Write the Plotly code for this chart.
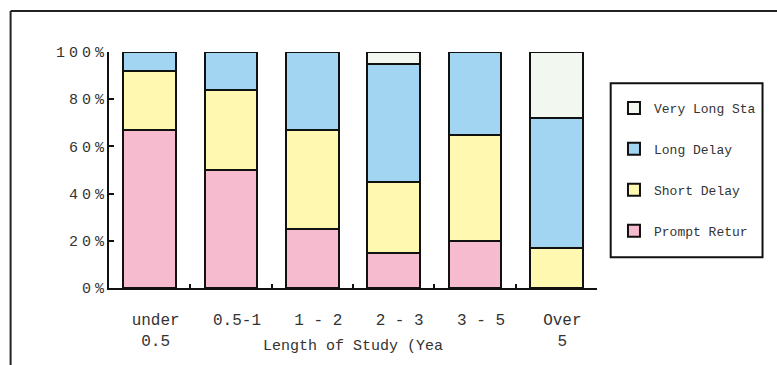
import plotly.graph_objects as go

categories = ["under<br>0.5", "0.5-1", "1 - 2", "2 - 3", "3 - 5", "Over<br>5"]
prompt_return = [67, 50, 25, 15, 20, 0]
short_delay = [25, 34, 42, 30, 45, 17]
long_delay = [8, 16, 33, 50, 35, 55]
very_long_stay = [0, 0, 0, 5, 0, 28]
series_names = ["Prompt Retur", "Short Delay", "Long Delay", "Very Long Sta"]
y_tick_vals = [0, 20, 40, 60, 80, 100]
y_tick_text = ["0%", "20%", "40%", "60%", "80%", "100%"]
x_title = "Length of Study (Yea"

colors = ["#F7BBD0", "#FFF8B0", "#A2D5F2", "#F2F7F0"]
series = [prompt_return, short_delay, long_delay, very_long_stay]

W, H = 777, 365
L, R, T, B = 108.5, 180, 52, 77
px = lambda X: (X - L) / (W - L - R)
py = lambda Y: (H - B - Y) / (H - T - B)

fig = go.Figure()
for i, (name, vals) in enumerate(zip(series_names, series)):
    fig.add_trace(go.Bar(
        x=categories, y=[v if v > 0 else None for v in vals], name=name,
        marker=dict(color=colors[i], line=dict(color="#111111", width=2)),
        legendgroup=name, legendrank=10 - i,
    ))

mono = "Liberation Mono, Courier New, monospace"


def spaced(t):
    return '<span style="letter-spacing:4px">%s</span>%s' % (t[:-1], t[-1])


fig.update_layout(
    width=W, height=H, barmode="stack", bargap=0.353,
    margin=dict(l=L, r=R, t=T, b=B, pad=0),
    paper_bgcolor="white", plot_bgcolor="white",
    font=dict(family=mono, color="#222222"),
    legend=dict(
        x=px(614), y=py(93),
        xanchor="left", yanchor="top",
        borderwidth=0, bgcolor="rgba(0,0,0,0)",
        font=dict(family=mono, size=13, color="#333333"),
        traceorder="grouped", tracegroupgap=21,
        itemwidth=30,
    ),
    xaxis=dict(
        showline=True, linecolor="#111111", linewidth=2,
        ticks="inside", tickson="boundaries", ticklen=4, tickwidth=2, tickcolor="#111111",
        tickfont=dict(family=mono, size=16, color="#333333"),
        ticklabelshift=6, ticklabelstandoff=16,
    ),
    yaxis=dict(
        range=[0, 100], tickvals=y_tick_vals,
        ticktext=[spaced(t) for t in y_tick_text],
        showline=True, linecolor="#111111", linewidth=2,
        ticks="inside", ticklen=5, tickwidth=2, tickcolor="#111111",
        tickfont=dict(family=mono, size=15, color="#333333"),
        showgrid=False, zeroline=False,
    ),
)

fig.add_annotation(text=x_title, xref="paper", yref="paper", x=0.5, y=py(346.7),
                   xanchor="center", yanchor="middle", showarrow=False,
                   font=dict(family=mono, size=15, color="#333333"))

# legend frame
fig.add_shape(type="rect", xref="paper", yref="paper", x0=px(610.7), x1=px(762.7), y0=py(83.3), y1=py(257.3),
              line=dict(color="#111111", width=2), fillcolor="rgba(0,0,0,0)")
# outer frame (top and left edges visible)
fig.add_shape(type="line", xref="paper", yref="paper", x0=px(10), x1=px(W + 5), y0=py(11), y1=py(11),
              line=dict(color="#222222", width=2))
fig.add_shape(type="line", xref="paper", yref="paper", x0=px(10), x1=px(10), y0=py(11), y1=py(H + 5),
              line=dict(color="#222222", width=2))

fig.write_html("out.html", config={"displayModeBar": False},
               post_script="document.body.style.margin='0';")
